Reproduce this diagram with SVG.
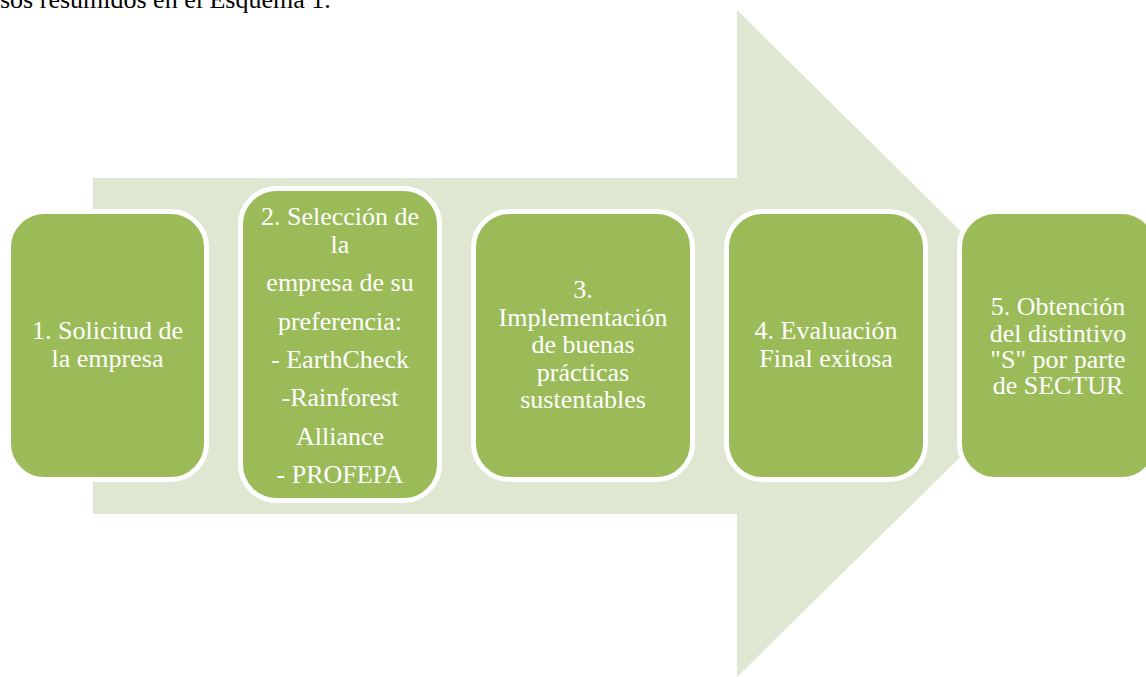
<svg xmlns="http://www.w3.org/2000/svg" width="1146" height="677" viewBox="0 0 1146 677">
<style>
.box{fill:#9BBB59;stroke:#FFFFFF;stroke-width:5}
text{font-family:'Liberation Serif','Tinos','Times New Roman','DejaVu Serif',serif;font-size:26px}
.lbl{fill:#FFFFFF;text-anchor:middle}
.doc{fill:#000000}
</style>
<rect width="1146" height="677" fill="#FFFFFF"/>
<text class="doc" x="0" y="8" font-family="Liberation Serif, serif">sos resumidos en el Esquema 1.</text>
<g id="connectors">
<polygon id="arrow" points="93,178 737,178 737,10 1075,344 737,677 737,514 93,514" fill="#DFE7D3"/>
</g>
<g id="node1">
<rect class="box" x="8.5" y="211.5" width="198" height="268" rx="36"/>
<text class="lbl" font-family="Liberation Serif, serif"><tspan x="107.5" y="339">1. Solicitud de</tspan><tspan x="107.5" y="367">la empresa</tspan></text>
</g>
<g id="node2">
<rect class="box" x="240.5" y="188.5" width="199" height="312" rx="36"/>
<text class="lbl" font-family="Liberation Serif, serif"><tspan x="340" y="225">2. Selección de</tspan><tspan x="340" y="253">la</tspan><tspan x="340" y="291">empresa de su</tspan><tspan x="340" y="330">preferencia:</tspan><tspan x="340" y="368">- EarthCheck</tspan><tspan x="340" y="406">-Rainforest</tspan><tspan x="340" y="445">Alliance</tspan><tspan x="340" y="483">- PROFEPA</tspan></text>
</g>
<g id="node3">
<rect class="box" x="473.5" y="211.5" width="219" height="268" rx="36"/>
<text class="lbl" font-family="Liberation Serif, serif"><tspan x="583" y="298">3.</tspan><tspan x="583" y="326">Implementación</tspan><tspan x="583" y="353">de buenas</tspan><tspan x="583" y="381">prácticas</tspan><tspan x="583" y="408">sustentables</tspan></text>
</g>
<g id="node4">
<rect class="box" x="726.5" y="211.5" width="199" height="268" rx="36"/>
<text class="lbl" font-family="Liberation Serif, serif"><tspan x="826" y="339">4. Evaluación</tspan><tspan x="826" y="367">Final exitosa</tspan></text>
</g>
<g id="node5">
<rect class="box" x="959.5" y="211.5" width="198" height="268" rx="36"/>
<text class="lbl" font-family="Liberation Serif, serif"><tspan x="1058" y="315">5. Obtención</tspan><tspan x="1058" y="342">del distintivo</tspan><tspan x="1058" y="368">"S" por parte</tspan><tspan x="1058" y="394">de SECTUR</tspan></text>
</g>
</svg>
